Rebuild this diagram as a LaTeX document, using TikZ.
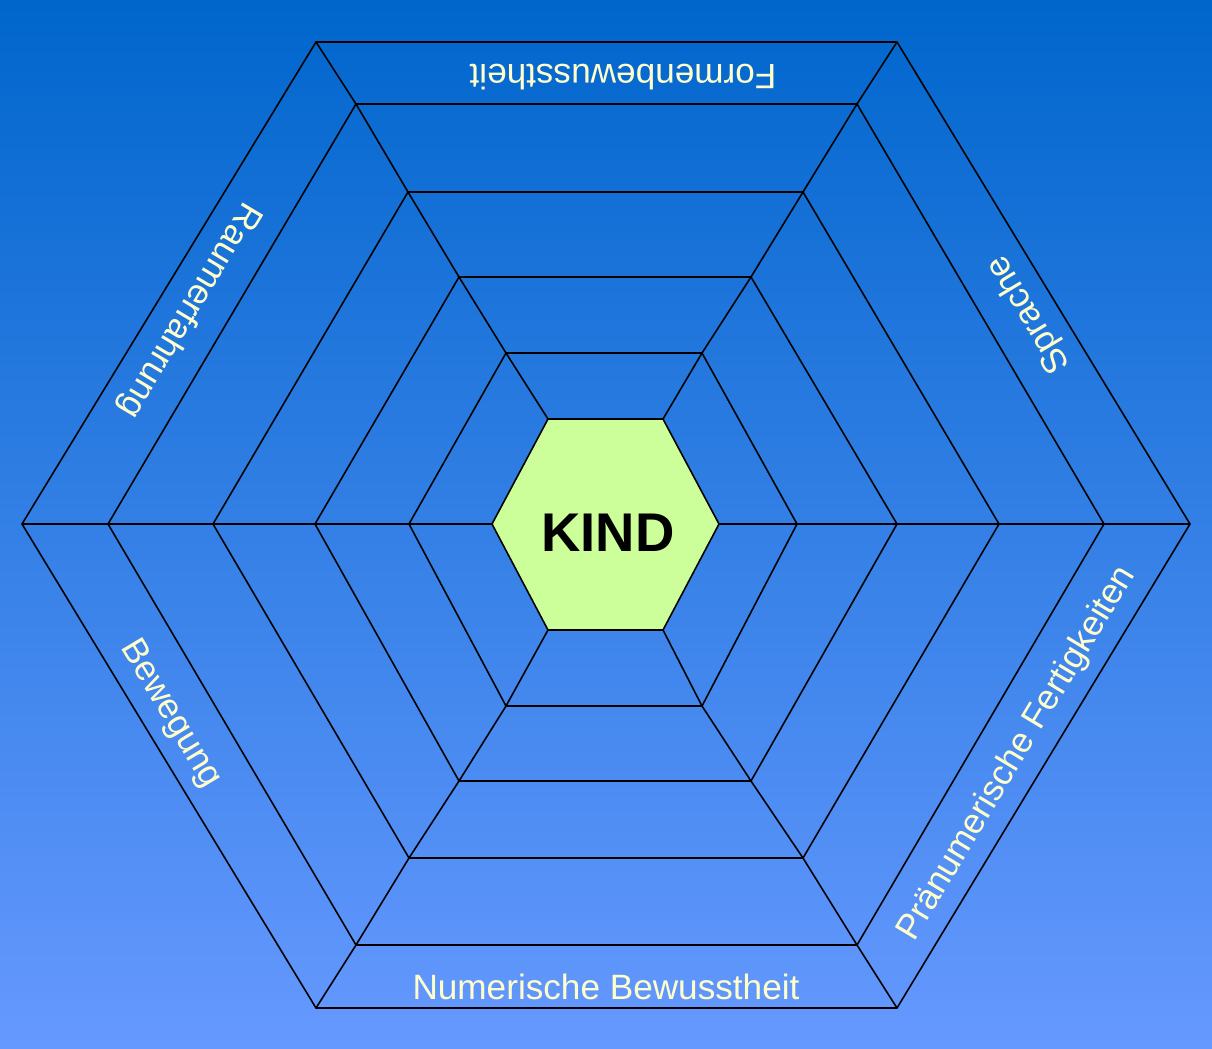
\documentclass[tikz,border=0pt]{standalone}
\usepackage{fontspec}
\setmainfont{Liberation Sans}
\definecolor{bgtop}{RGB}{0,102,204}
\definecolor{bgbottom}{RGB}{102,153,255}
\definecolor{kindgreen}{RGB}{204,255,153}
\definecolor{labelyellow}{RGB}{255,255,204}
\tikzset{
  ring/.style={draw=black,line width=0.45pt,line join=miter},
  ringlabel/.style={text=labelyellow,font=\fontsize{10}{12}\selectfont,inner sep=0pt,text height=7.2pt,text depth=0pt},
}
\begin{document}
\begin{tikzpicture}[x=0.01cm,y=-0.01cm]
\shade[top color=bgtop,bottom color=bgbottom] (0,0) rectangle (1212,1048);

% rings, outside in
\draw[ring] (22,524) -- (316,42) -- (897,42) -- (1190,524) -- (897,1008) -- (316,1008) -- cycle;
\draw[ring] (108,524) -- (356,104) -- (857,104) -- (1104,524) -- (857,945) -- (356,945) -- cycle;
\draw[ring] (213,524) -- (408,192) -- (803,192) -- (999,524) -- (803,858) -- (409,858) -- cycle;
\draw[ring] (315,524) -- (459,277) -- (751,277) -- (897,524) -- (751,781) -- (459,781) -- cycle;
\draw[ring] (409,524) -- (506,353) -- (702,353) -- (797,524) -- (702,706) -- (506,706) -- cycle;

% spokes
\draw[ring] (22,524) -- (108,524) -- (213,524) -- (315,524) -- (409,524) -- (492,524);
\draw[ring] (316,42) -- (356,104) -- (408,192) -- (459,277) -- (506,353) -- (548,419);
\draw[ring] (897,42) -- (857,104) -- (803,192) -- (751,277) -- (702,353) -- (663,419);
\draw[ring] (1190,524) -- (1104,524) -- (999,524) -- (897,524) -- (797,524) -- (719,524);
\draw[ring] (897,1008) -- (857,945) -- (803,858) -- (751,781) -- (702,706) -- (663,630);
\draw[ring] (316,1008) -- (356,945) -- (409,858) -- (459,781) -- (506,706) -- (548,630);

% centre
\filldraw[ring,fill=kindgreen] (492,524) -- (548,419) -- (663,419) -- (719,524) -- (663,630) -- (548,630) -- cycle;
\node[font=\fontsize{15.5}{18}\selectfont\bfseries,inner sep=0pt,text height=11.1pt,text depth=0pt] (kind) at (608,532) {KIND};

% labels in the outer ring
\node[ringlabel,rotate=180] (formen) at (623,77) {Formenbewusstheit};
\node[ringlabel,rotate=121] (sprache) at (1026,316) {Sprache};
\node[ringlabel,rotate=59] (praenum) at (1014,752) {Pränumerische Fertigkeiten};
\node[ringlabel] (numerisch) at (606,987) {Numerische Bewusstheit};
\node[ringlabel,rotate=-59] (bewegung) at (174,712) {Bewegung};
\node[ringlabel,rotate=239] (raum) at (192,312) {Raumerfahrung};
\end{tikzpicture}
\end{document}
